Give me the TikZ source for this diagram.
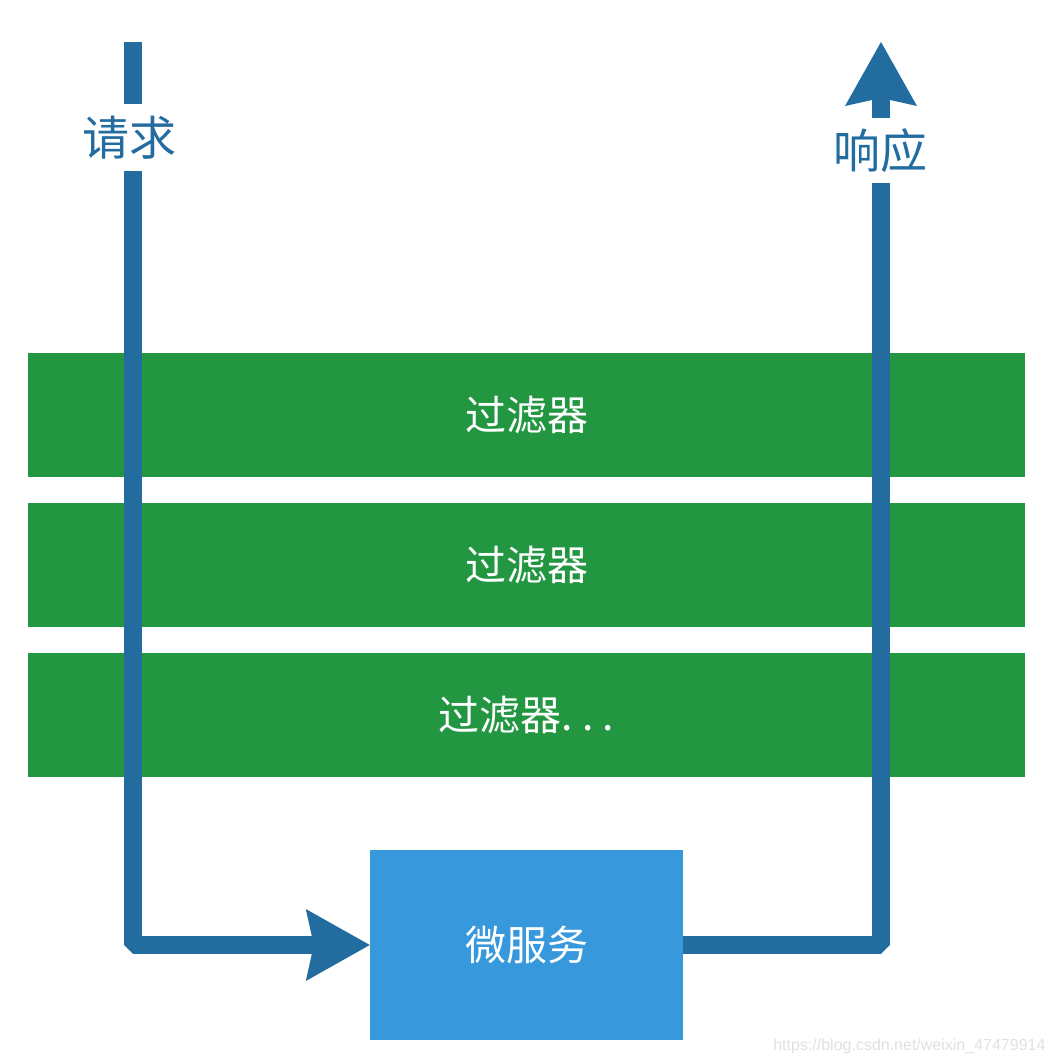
\documentclass[tikz,border=0pt]{standalone}
\usepackage{fontspec}
\setmainfont{Noto Sans CJK SC}
\newfontfamily\urlfont{Liberation Sans}
\usetikzlibrary{arrows.meta}
\definecolor{filtergreen}{RGB}{34,150,64}
\definecolor{serviceblue}{RGB}{55,152,220}
\definecolor{flowblue}{RGB}{35,108,160}
\begin{document}
\begin{tikzpicture}[x=1pt,y=-1pt, line cap=butt,
  filterbar/.style={fill=filtergreen, text=white, minimum width=997pt, minimum height=124pt, inner sep=0pt, font=\fontsize{41}{43}\selectfont},
  flowline/.style={draw=flowblue, line width=18pt, line join=bevel},
  flowtip/.style={-{Stealth[length=64pt,width=72pt,inset=8pt,line width=0pt]}},
  flowlabel/.style={fill=white, text=flowblue, inner sep=2pt, font=\fontsize{47}{49}\selectfont}]
\useasboundingbox (0,0) rectangle (1058,1064);
% filter chain
\node[filterbar] (filter1) at (526.5,415) {过滤器};
\node[filterbar] (filter2) at (526.5,565) {过滤器};
\node[filterbar] (filter3) at (526.5,715) {过滤器.\hspace{9pt}.\hspace{9pt}.};
\node[fill=serviceblue, text=white, minimum width=313pt, minimum height=190pt, inner sep=0pt, font=\fontsize{41}{43}\selectfont] (service) at (526.5,945) {微服务};
% request in, response out
\coordinate (reqtop) at (133,42);
\coordinate (resptop) at (881,42);
\draw[flowline,flowtip] (reqtop) |- (service.west);
\draw[flowline,flowtip] (service.east) -| (resptop);
\node[flowlabel, minimum height=67pt] (request) at (129,138) {请求};
\node[flowlabel, minimum height=65pt] (response) at (880,151) {响应};
\node[anchor=east, text=black!12, font=\urlfont\fontsize{16}{17}\selectfont] (watermark) at (1049,1046) {https://blog.csdn.net/weixin\_47479914};
\end{tikzpicture}
\end{document}
